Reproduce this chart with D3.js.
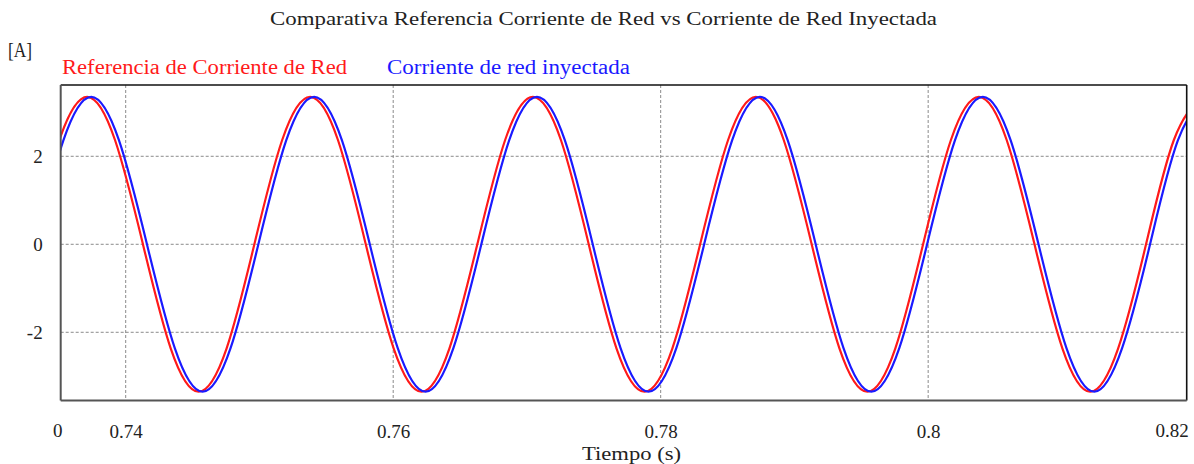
<!DOCTYPE html>
<html>
<head>
<meta charset="utf-8">
<script src="https://cdn.jsdelivr.net/npm/d3@7"></script>
<style>
  html, body { margin: 0; padding: 0; background: #fff; }
  svg text { font-family: "Liberation Serif", "DejaVu Serif", serif; fill: #222; }
</style>
</head>
<body>
<svg id="chart" width="1194" height="464"></svg>
<script>
// Reference grid current (red) — sample times [s] and values [A]
const refTime = [
  0.73295, 0.73504, 0.73712, 0.73920, 0.74129, 0.74337, 0.74545, 0.74754,
  0.74962, 0.75170, 0.75379, 0.75587, 0.75795, 0.76004, 0.76212, 0.76420,
  0.76629, 0.76837, 0.77045, 0.77254, 0.77462, 0.77670, 0.77879, 0.78087,
  0.78295, 0.78504, 0.78712, 0.78920, 0.79129, 0.79337, 0.79545, 0.79754,
  0.79962, 0.80170, 0.80379, 0.80587, 0.80795, 0.81004, 0.81212, 0.81420,
  0.81629, 0.81837, 0.82045
];
const refCurrent = [
  0, 2.37, 3.35, 2.37, 0, -2.37, -3.35, -2.37,
  0, 2.37, 3.35, 2.37, 0, -2.37, -3.35, -2.37,
  0, 2.37, 3.35, 2.37, 0, -2.37, -3.35, -2.37,
  0, 2.37, 3.35, 2.37, 0, -2.37, -3.35, -2.37,
  0, 2.37, 3.35, 2.37, 0, -2.37, -3.35, -2.37,
  0, 2.37, 3.35
];

// Injected grid current (blue) — sample times [s] and values [A]
const injTime = [
  0.73325, 0.73534, 0.73742, 0.73950, 0.74159, 0.74367, 0.74575, 0.74784,
  0.74992, 0.75200, 0.75409, 0.75617, 0.75825, 0.76034, 0.76242, 0.76450,
  0.76659, 0.76867, 0.77075, 0.77284, 0.77492, 0.77700, 0.77909, 0.78117,
  0.78325, 0.78534, 0.78742, 0.78950, 0.79159, 0.79367, 0.79575, 0.79784,
  0.79992, 0.80200, 0.80409, 0.80617, 0.80825, 0.81034, 0.81242, 0.81450,
  0.81659, 0.81867, 0.82075
];
const injCurrent = [
  0, 2.36, 3.35, 2.36, 0, -2.36, -3.35, -2.36,
  0, 2.36, 3.35, 2.36, 0, -2.36, -3.35, -2.36,
  0, 2.36, 3.35, 2.36, 0, -2.36, -3.35, -2.36,
  0, 2.36, 3.35, 2.36, 0, -2.36, -3.35, -2.36,
  0, 2.36, 3.35, 2.36, 0, -2.36, -3.35, -2.36,
  0, 2.36, 3.35
];

const xTicks = [0.74, 0.76, 0.78, 0.8];
const yTicks = [-2, 0, 2];
const xDomain = [0.73514, 0.81933];
const yDomain = [-3.55, 3.62];

const titleText = "Comparativa Referencia Corriente de Red vs Corriente de Red Inyectada";
const refLabel = "Referencia de Corriente de Red";
const injLabel = "Corriente de red inyectada";
const unitLabel = "[A]";
const xLabel = "Tiempo (s)";

const W = 1194, H = 464;
const margin = { left: 60.7, right: W - 1186.7, top: 85, bottom: H - 400.5 };
const iw = W - margin.left - margin.right;
const ih = H - margin.top - margin.bottom;

const svg = d3.select("#chart");
const g = svg.append("g").attr("transform", `translate(${margin.left},${margin.top})`);

const x = d3.scaleLinear().domain(xDomain).range([0, iw]);
const y = d3.scaleLinear().domain(yDomain).range([ih, 0]);

// clip the traces to the plotting area
svg.append("defs").append("clipPath").attr("id", "plotClip")
  .append("rect").attr("x", 0).attr("y", 0).attr("width", iw).attr("height", ih);

// grid lines
g.append("g")
  .selectAll("line").data(xTicks).join("line")
  .attr("x1", d => x(d)).attr("x2", d => x(d))
  .attr("y1", 0).attr("y2", ih)
  .attr("stroke", "#8a8a8a").attr("stroke-width", 1).attr("stroke-dasharray", "3,2");
g.append("g")
  .selectAll("line").data(yTicks).join("line")
  .attr("x1", 0).attr("x2", iw)
  .attr("y1", d => y(d)).attr("y2", d => y(d))
  .attr("stroke", "#8a8a8a").attr("stroke-width", 1).attr("stroke-dasharray", "3,2");

// traces
const line = d3.line().x(d => x(d[0])).y(d => y(d[1])).curve(d3.curveNatural);
const refData = refTime.map((t, i) => [t, refCurrent[i]]);
const injData = injTime.map((t, i) => [t, injCurrent[i]]);

const traces = g.append("g").attr("clip-path", "url(#plotClip)");
traces.append("path").datum(refData)
  .attr("d", line).attr("fill", "none")
  .attr("stroke", "#ff1a1a").attr("stroke-width", 2.2);
traces.append("path").datum(injData)
  .attr("d", line).attr("fill", "none")
  .attr("stroke", "#1a1aff").attr("stroke-width", 2.2);

// frame
g.append("line").attr("x1", 0).attr("x2", iw).attr("y1", 0).attr("y2", 0)
  .attr("stroke", "#111").attr("stroke-width", 1.6);
g.append("line").attr("x1", iw).attr("x2", iw).attr("y1", 0).attr("y2", ih)
  .attr("stroke", "#111").attr("stroke-width", 1.6);
g.append("line").attr("x1", 0).attr("x2", 0).attr("y1", 0).attr("y2", ih)
  .attr("stroke", "#555").attr("stroke-width", 2);
g.append("line").attr("x1", 0).attr("x2", iw).attr("y1", ih).attr("y2", ih)
  .attr("stroke", "#555").attr("stroke-width", 2);

// x axis labels
const xAxis = d3.axisBottom(x).tickValues(xTicks).tickSize(0).tickPadding(24)
  .tickFormat(d3.format("~g"));
const xg = g.append("g").attr("transform", `translate(0,${ih})`).call(xAxis);
xg.select(".domain").remove();
xg.selectAll("text").attr("font-size", 19).attr("fill", "#222");
// end labels of the time axis
g.append("text").attr("x", x(xDomain[0]) - 3).attr("y", ih + 36)
  .attr("text-anchor", "middle").attr("font-size", 19).text("0");
g.append("text").attr("x", x(xDomain[1]) + 2).attr("y", ih + 36)
  .attr("text-anchor", "end").attr("font-size", 19).text("0.82");

// y axis labels
const yAxis = d3.axisLeft(y).tickValues(yTicks).tickSize(0).tickPadding(18)
  .tickFormat(d => d3.format("d")(d).replace("−", "-"));
const yg = g.append("g").call(yAxis);
yg.select(".domain").remove();
yg.selectAll("text").attr("font-size", 19).attr("fill", "#222");

// title, unit and legend (stretched to the wider serif face widths)
function label(txt, xPos, yPos, size, width, color, anchor) {
  const t = svg.append("text").attr("x", xPos).attr("y", yPos)
    .attr("font-size", size).attr("text-anchor", anchor || "start")
    .attr("textLength", width).attr("lengthAdjust", "spacingAndGlyphs")
    .text(txt);
  if (color) t.style("fill", color);
  return t;
}
label(titleText, 603.5, 25, 19.5, 667, null, "middle");
label(unitLabel, 8, 57, 20, 24);
label(refLabel, 62, 74, 20, 285, "#ff1a1a");
label(injLabel, 387, 74, 20, 243, "#1a1aff");
label(xLabel, 631.5, 460, 19.5, 99, null, "middle");
</script>
</body>
</html>
